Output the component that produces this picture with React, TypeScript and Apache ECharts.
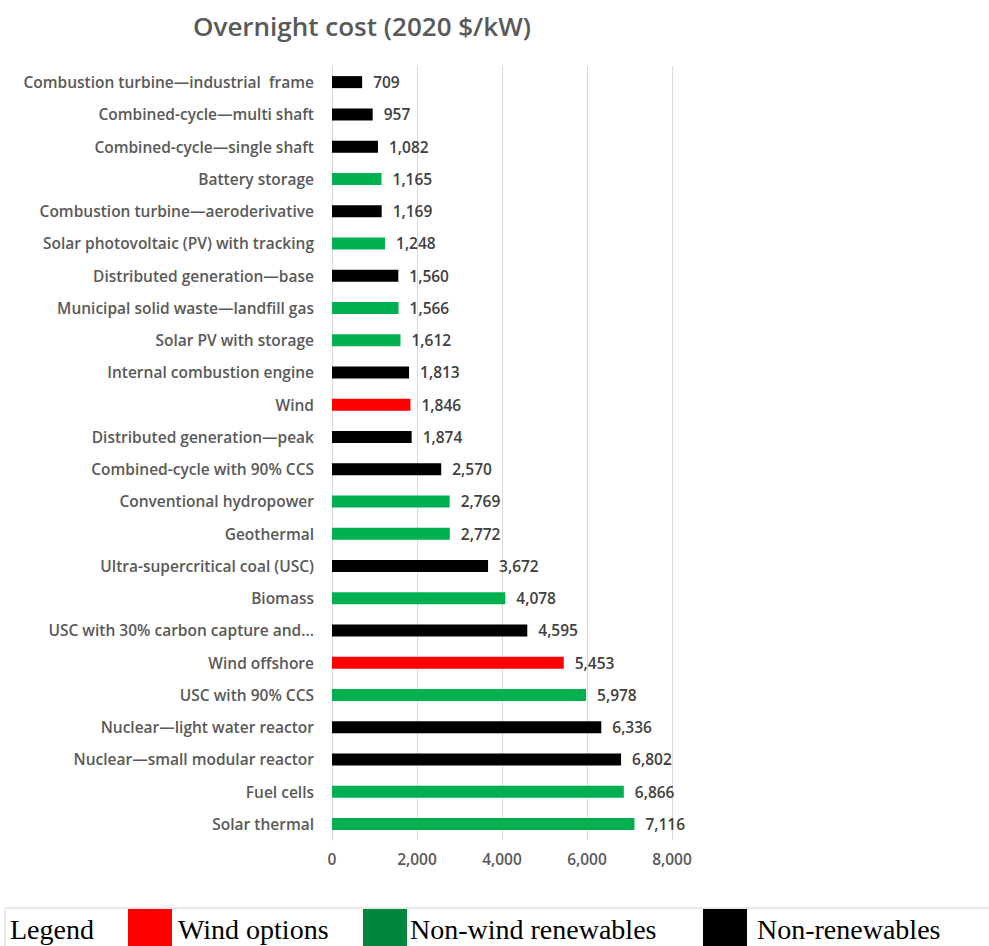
import React, { useEffect, useRef } from "react";
import * as echarts from "echarts";

const categories = [
  "Combustion turbine—industrial  frame",
  "Combined-cycle—multi shaft",
  "Combined-cycle—single shaft",
  "Battery storage",
  "Combustion turbine—aeroderivative",
  "Solar photovoltaic (PV) with tracking",
  "Distributed generation—base",
  "Municipal solid waste—landfill gas",
  "Solar PV with storage",
  "Internal combustion engine",
  "Wind",
  "Distributed generation—peak",
  "Combined-cycle with 90% CCS",
  "Conventional hydropower",
  "Geothermal",
  "Ultra-supercritical coal (USC)",
  "Biomass",
  "USC with 30% carbon capture and...",
  "Wind offshore",
  "USC with 90% CCS",
  "Nuclear—light water reactor",
  "Nuclear—small modular reactor",
  "Fuel cells",
  "Solar thermal",
];

const costs = [
  709, 957, 1082, 1165, 1169, 1248, 1560, 1566, 1612, 1813, 1846, 1874, 2570,
  2769, 2772, 3672, 4078, 4595, 5453, 5978, 6336, 6802, 6866, 7116,
];

// w = wind, r = non-wind renewable, n = non-renewable
const groups = [
  "n", "n", "n", "r", "n", "r", "n", "r", "r", "n", "w", "n", "n",
  "r", "r", "n", "r", "n", "w", "r", "n", "n", "r", "r",
];

const groupColors: Record<string, string> = { w: "#FF0000", r: "#00B050", n: "#000000" };

const legendItems = [
  { label: "Wind options", color: "#FF0000" },
  { label: "Non-wind renewables", color: "#00873D" },
  { label: "Non-renewables", color: "#000000" },
];

const xTicks = [0, 2000, 4000, 6000, 8000];

const FONT = "'Open Sans'";

export default function App() {
  const ref = useRef<HTMLDivElement>(null);
  useEffect(() => {
    if (!ref.current) return;
    const chart = echarts.init(ref.current, undefined, { renderer: "svg" });
    const fmt = (v: number) => v.toLocaleString("en-US");
    const legendX = [128, 363, 703];
    const legendTextX = [178, 410, 757];
    const graphic: any[] = [
      {
        type: "rect",
        shape: { x: 5, y: 908, width: 1000, height: 60 },
        style: { fill: "#fff", stroke: "#d4d4d4", lineWidth: 1 },
      },
      {
        type: "text",
        x: 10,
        y: 929,
        style: {
          text: "Legend",
          font: "28px 'Liberation Serif'",
          fill: "#000",
          verticalAlign: "middle",
        },
      },
    ];
    legendItems.forEach((it, i) => {
      graphic.push({
        type: "rect",
        shape: { x: legendX[i], y: 909, width: 44, height: 40 },
        style: { fill: it.color },
      });
      graphic.push({
        type: "text",
        x: legendTextX[i],
        y: 929,
        style: {
          text: it.label,
          font: "28px 'Liberation Serif'",
          fill: "#000",
          verticalAlign: "middle",
        },
      });
    });
    chart.setOption({
      animation: false,
      backgroundColor: "#fff",
      title: {
        text: "Overnight cost (2020 $/kW)",
        left: 357,
        textAlign: "center",
        top: 8,
        textStyle: { fontFamily: FONT, fontSize: 26, fontWeight: 600, color: "#595959" },
      },
      grid: { left: 332, top: 66, width: 340, height: 774, containLabel: false },
      xAxis: {
        type: "value",
        min: xTicks[0],
        max: xTicks[xTicks.length - 1],
        interval: 2000,
        axisLine: { show: false },
        axisTick: { show: false },
        splitLine: { lineStyle: { color: "#d9d9d9", width: 1 } },
        axisLabel: {
          formatter: (v: number) => fmt(v),
          color: "#595959",
          fontFamily: FONT,
          fontSize: 15.5,
          fontWeight: 600,
          margin: 11,
        },
      },
      yAxis: {
        type: "category",
        inverse: true,
        data: categories,
        axisLine: { show: true, lineStyle: { color: "#d9d9d9" } },
        axisTick: { show: false },
        axisLabel: {
          color: "#595959",
          fontFamily: FONT,
          fontSize: 15.5,
          fontWeight: 600,
          margin: 18,
        },
      },
      series: [
        {
          type: "bar",
          barWidth: 12,
          data: costs.map((v, i) => ({ value: v, itemStyle: { color: groupColors[groups[i]] } })),
          label: {
            show: true,
            position: "right",
            distance: 11,
            formatter: (p: any) => fmt(p.value),
            color: "#404040",
            fontFamily: FONT,
            fontSize: 15.5,
            fontWeight: 600,
          },
        },
      ],
      graphic,
    });
    return () => chart.dispose();
  }, []);
  return (
    <div
      ref={ref}
      style={{ position: "absolute", left: 0, top: 0, width: 989, height: 946 }}
    />
  );
}
